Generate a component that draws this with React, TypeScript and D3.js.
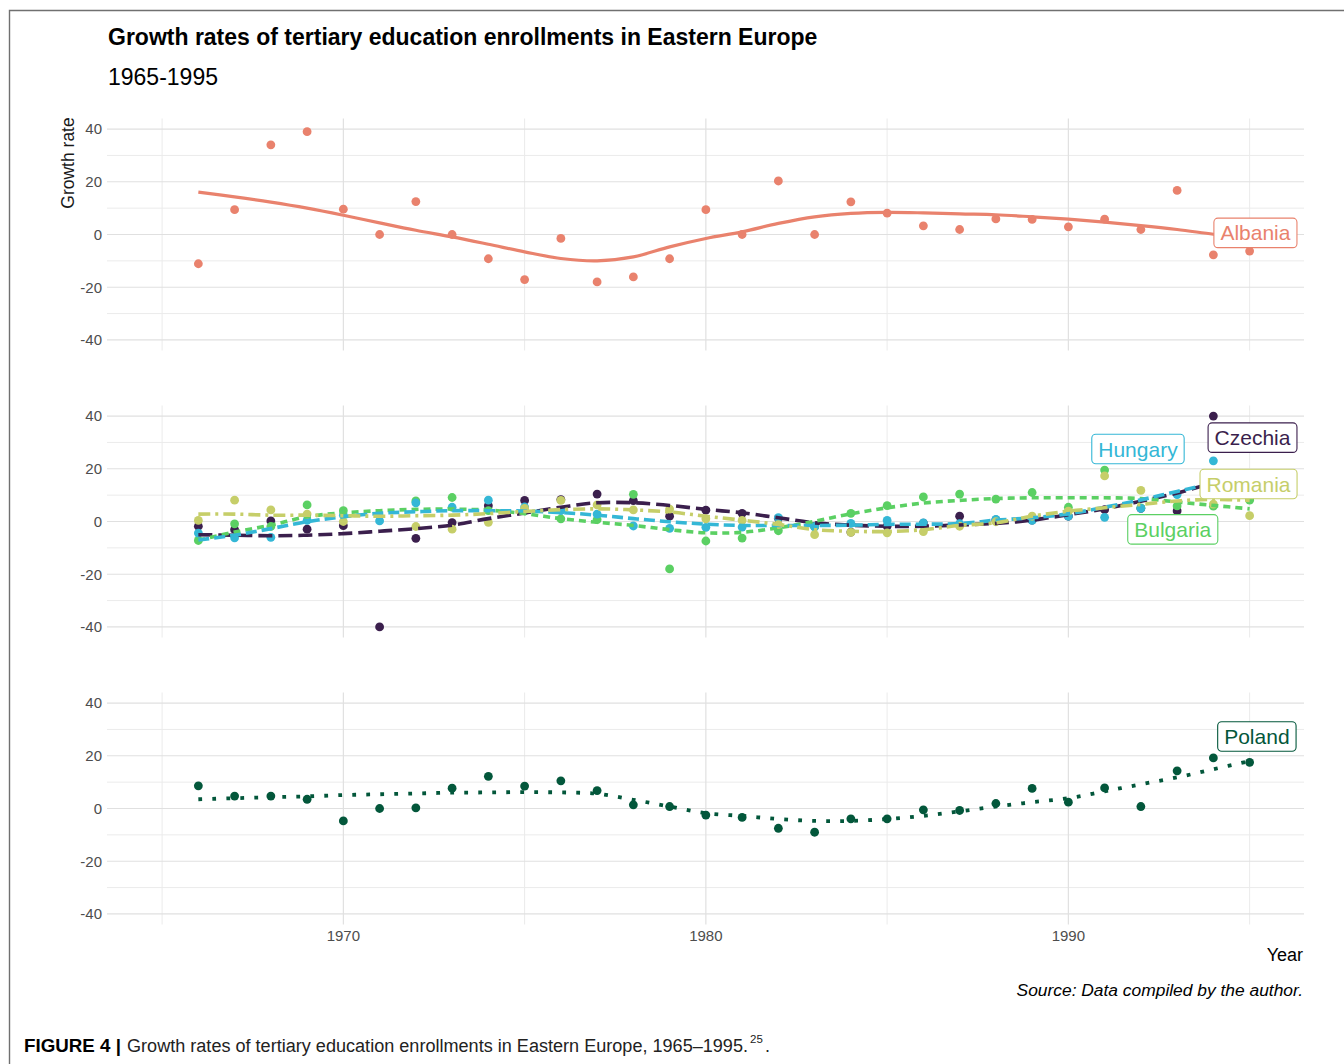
import React, { useLayoutEffect, useRef, useState } from 'react';
import * as d3 from 'd3';

// ---------- DATA ----------
const years = [1966, 1967, 1968, 1969, 1970, 1971, 1972, 1973, 1974, 1975, 1976, 1977, 1978, 1979, 1980,
  1981, 1982, 1983, 1984, 1985, 1986, 1987, 1988, 1989, 1990, 1991, 1992, 1993, 1994, 1995];

const albania = [-11.1, 9.4, 34.0, 39.0, 9.6, 0, 12.5, 0, -9.2, -17.1, -1.5, -18.0, -16.1, -9.2, 9.4,
  0, 20.3, 0, 12.4, 8.1, 3.3, 1.9, 5.9, 5.7, 2.9, 5.8, 1.9, 16.7, -7.7, -6.3];
const albaniaSmooth = [16.1, 14.3, 12.3, 10.0, 7.3, 4.4, 1.6, -0.9, -3.7, -6.6, -9.1, -10.0, -8.5, -4.7, -1.5,
  1.0, 4.2, 6.7, 8.0, 8.4, 8.2, 7.8, 7.5, 6.7, 5.8, 4.7, 3.4, 1.9, 0.1, -1.5];

const czechia = [-1.8, -3.1, 0.2, -2.9, -1.6, -40, -6.4, -0.4, 6.0, 8.0, 8.3, 10.4, 7.9, 2.0, 4.3,
  3.1, 1.2, -1.8, -4.0, -1.8, -0.6, 2.0, 0.6, 0.5, 2.0, 4.5, 5.0, 4.0, 40, 8.6];
const czechiaSmooth = [-5.0, -5.2, -5.4, -5.2, -4.6, -3.7, -2.7, -1.4, 1.1, 3.2, 5.4, 7.1, 7.1, 6.1, 4.6,
  3.3, 1.4, -0.5, -1.4, -1.8, -1.8, -1.3, -0.7, 0.5, 2.6, 4.8, 7.7, 10.8, 14.6, 18.0];

const hungary = [-4.4, -6.2, -6.0, 0.4, 2.4, 0.2, 7.1, 5.4, 8.1, 5.5, 4.1, 2.8, -1.7, -2.6, -2.2,
  -2.1, 1.5, -2.0, -0.7, 0.4, -0.5, -0.8, 0.8, 0.4, 2.0, 1.6, 5.0, 10.2, 23.0, null];
const hungarySmooth = [-7.0, -5.2, -2.7, -0.1, 1.8, 3.1, 3.7, 4.1, 4.1, 4.0, 3.4, 2.4, 1.1, -0.1, -1.0,
  -1.5, -1.5, -1.5, -1.4, -1.1, -1.0, -0.8, 0.5, 1.4, 2.9, 5.4, 8.2, 11.4, 14.5, 17.5];

const romania = [0.4, 8.1, 4.4, 2.8, 0.0, null, -1.9, -2.9, -0.3, 5.0, 8.0, 6.3, 4.4, 4.7, 1.0,
  0.4, -1.2, -5.0, -4.1, -4.3, -3.8, -1.8, -0.1, 2.0, 3.9, 17.3, 11.8, null, 6.6, 2.2];
const romaniaSmooth = [2.8, 2.8, 2.4, 2.4, 2.2, 2.0, 2.2, 2.4, 3.0, 3.8, 4.5, 4.8, 4.4, 3.6, 2.0,
  0.5, -1.1, -3.1, -3.7, -3.8, -3.1, -1.5, -0.5, 2.0, 3.9, 5.2, 6.5, 7.8, 8.4, 8.0];

const bulgaria = [-7.2, -0.9, -1.9, 6.3, 4.1, null, 7.8, 9.1, 4.1, 4.0, 1.0, 0.7, 10.3, -18.0, -7.4,
  -6.3, -3.5, -2.0, 3.1, 6.0, 9.3, 10.4, 8.5, 11.0, 5.4, 19.5, 5.2, 5.9, 5.8, 8.1];
const bulgariaSmooth = [-7.1, -4.0, -1.4, 1.8, 3.3, 4.1, 4.6, 4.7, 4.3, 3.0, 1.1, -0.3, -1.5, -3.1, -4.3,
  -4.1, -2.4, 0.1, 2.9, 5.2, 7.0, 8.0, 8.7, 9.0, 9.0, 9.0, 8.7, 7.4, 6.1, 4.8];

const poland = [8.6, 4.7, 4.7, 3.5, -4.7, 0, 0.25, 7.7, 12.2, 8.5, 10.5, 6.8, 1.4, 0.75, -2.5,
  -3.4, -7.5, -9.0, -3.9, -3.9, -0.5, -0.75, 1.9, 7.6, 2.4, 7.8, 0.75, 14.3, 19.2, 17.5];
const polandSmooth = [3.5, 3.9, 4.3, 4.6, 5.1, 5.4, 5.7, 6.0, 6.1, 6.2, 6.1, 5.6, 3.3, 0.75, -1.8,
  -2.8, -4.0, -4.7, -4.7, -4.0, -2.8, -1.1, 0.75, 2.4, 3.9, 6.5, 9.2, 11.8, 14.9, 18.0];

const yTicks = [-40, -20, 0, 20, 40];
const yMinor = [-30, -10, 10, 30];
const xTicks = [1970, 1980, 1990];
const xMinor = [1965, 1975, 1985, 1995];

// label anchors: [country, year, value]
const labelAnchors: [string, number, number][] = [
  ['Albania', 1995.16, 0.6],
  ['Czechia', 1995.08, 31.8],
  ['Hungary', 1991.92, 27.5],
  ['Romania', 1994.97, 14.2],
  ['Bulgaria', 1992.88, -3.0],
  ['Poland', 1995.2, 27.3],
];

// ---------- STYLE ----------
const FONT = '"Liberation Sans", Arial, Helvetica, sans-serif';
const colors: Record<string, string> = {
  Albania: '#E9826D',
  Czechia: '#3B1F4D',
  Hungary: '#34B7D6',
  Romania: '#C6CE69',
  Bulgaria: '#5BD063',
  Poland: '#03573B',
};

type Series = { name: string; pts: (number | null)[]; smooth: number[]; dash: string; width: number };

const panels: { top: number; series: Series[]; labels: string[] }[] = [
  {
    top: 118.5,
    series: [{ name: 'Albania', pts: albania, smooth: albaniaSmooth, dash: 'none', width: 3.2 }],
    labels: ['Albania'],
  },
  {
    top: 405.5,
    series: [
      { name: 'Czechia', pts: czechia, smooth: czechiaSmooth, dash: '14 6', width: 3.6 },
      { name: 'Bulgaria', pts: bulgaria, smooth: bulgariaSmooth, dash: '7 5', width: 3.6 },
      { name: 'Hungary', pts: hungary, smooth: hungarySmooth, dash: '11 5', width: 3.6 },
      { name: 'Romania', pts: romania, smooth: romaniaSmooth, dash: '12 5 3 5', width: 3.6 },
    ],
    labels: ['Hungary', 'Czechia', 'Romania', 'Bulgaria'],
  },
  {
    top: 692.5,
    series: [{ name: 'Poland', pts: poland, smooth: polandSmooth, dash: '3.8 10.2', width: 3.8 }],
    labels: ['Poland'],
  },
];

const PANEL_H = 232;
const X0 = 107;
const X1 = 1304;

const x = d3.scaleLinear().domain([1963.48, 1996.5]).range([X0, X1]);

function LabelBox({ cx, cy, text, color }: { cx: number; cy: number; text: string; color: string }) {
  const ref = useRef<SVGTextElement>(null);
  const [w, setW] = useState(text.length * 11);
  useLayoutEffect(() => {
    if (ref.current) setW(ref.current.getComputedTextLength());
  }, [text]);
  const bw = w + 13;
  const bh = 29.5;
  return (
    <g>
      <rect x={cx - bw / 2} y={cy - bh / 2} width={bw} height={bh} rx={4} ry={4} fill="#ffffff" stroke={color} strokeWidth={1.1} />
      <text ref={ref} x={cx} y={cy + 7.5} textAnchor="middle" fontSize={21} fill={color} fontFamily={FONT}>
        {text}
      </text>
    </g>
  );
}

function Panel({ top, series, labels, showX }: { top: number; series: Series[]; labels: string[]; showX: boolean }) {
  const y = d3.scaleLinear().domain([-44, 44]).range([top + PANEL_H, top]);
  return (
    <g>
      {yMinor.map((v) => (
        <line key={'ym' + v} x1={X0} x2={X1} y1={y(v)} y2={y(v)} stroke="#ebebeb" strokeWidth={1} />
      ))}
      {xMinor.map((v) => (
        <line key={'xm' + v} x1={x(v)} x2={x(v)} y1={top} y2={top + PANEL_H} stroke="#ebebeb" strokeWidth={1} />
      ))}
      {yTicks.map((v) => (
        <line key={'y' + v} x1={X0} x2={X1} y1={y(v)} y2={y(v)} stroke="#e0e0e0" strokeWidth={1.2} />
      ))}
      {xTicks.map((v) => (
        <line key={'x' + v} x1={x(v)} x2={x(v)} y1={top} y2={top + PANEL_H} stroke="#e0e0e0" strokeWidth={1.2} />
      ))}
      {yTicks.map((v) => (
        <text key={'yt' + v} x={102} y={y(v) + 5.3} textAnchor="end" fontSize={15} fill="#4d4d4d" fontFamily={FONT}>
          {v}
        </text>
      ))}
      {showX &&
        xTicks.map((v) => (
          <text key={'xt' + v} x={x(v)} y={top + PANEL_H + 16.5} textAnchor="middle" fontSize={15} fill="#4d4d4d" fontFamily={FONT}>
            {v}
          </text>
        ))}
      {series.map((s) =>
        s.pts.map((v, i) =>
          v === null ? null : (
            <circle key={s.name + i} cx={x(years[i])} cy={y(v)} r={4.4} fill={colors[s.name]} />
          )
        )
      )}
      {series.map((s) => {
        const line = d3
          .line<number>()
          .x((_, i) => x(years[i]))
          .y((d) => y(d))
          .curve(d3.curveCatmullRom.alpha(0.5));
        return (
          <path
            key={'l' + s.name}
            d={line(s.smooth) || ''}
            fill="none"
            stroke={colors[s.name]}
            strokeWidth={s.width}
            strokeDasharray={s.dash}
            strokeLinecap="butt"
          />
        );
      })}
      {labels.map((name) => {
        const a = labelAnchors.find((l) => l[0] === name)!;
        return <LabelBox key={'lb' + name} cx={x(a[1])} cy={y(a[2])} text={name} color={colors[name]} />;
      })}
    </g>
  );
}

export default function App() {
  return (
    <svg
      width={1344}
      height={1064}
      style={{ position: 'absolute', left: 0, top: 0, display: 'block', background: '#ffffff' }}
      fontFamily={FONT}
    >
      <rect x={0} y={0} width={1344} height={1064} fill="#ffffff" />
      <path d="M9.5 1064 V10.5 H1344" fill="none" stroke="#707070" strokeWidth={1.4} />
      <text x={108} y={44.5} fontSize={23} fontWeight="bold" fill="#000">
        Growth rates of tertiary education enrollments in Eastern Europe
      </text>
      <text x={108} y={85} fontSize={23} fill="#000">
        1965-1995
      </text>
      <text transform="translate(73.5,163) rotate(-90)" textAnchor="middle" fontSize={17.5} fill="#1a1a1a">
        Growth rate
      </text>
      {panels.map((p, i) => (
        <Panel key={i} top={p.top} series={p.series} labels={p.labels} showX={i === panels.length - 1} />
      ))}
      <text x={1303} y={961} textAnchor="end" fontSize={18} fill="#000">
        Year
      </text>
      <text x={1303} y={996} textAnchor="end" fontSize={17.4} fontStyle="italic" fill="#000">
        Source: Data compiled by the author.
      </text>
      <text x={24} y={1052} fontSize={18} fontWeight="bold" fill="#000" textLength={97} lengthAdjust="spacingAndGlyphs">
        FIGURE 4 |
      </text>
      <text x={127} y={1052} fontSize={18} fill="#222" textLength={621} lengthAdjust="spacingAndGlyphs">
        Growth rates of tertiary education enrollments in Eastern Europe, 1965–1995.
      </text>
      <text x={750} y={1043} fontSize={11.5} fill="#222">
        25
      </text>
      <text x={765} y={1052} fontSize={18} fill="#222">
        .
      </text>
    </svg>
  );
}
